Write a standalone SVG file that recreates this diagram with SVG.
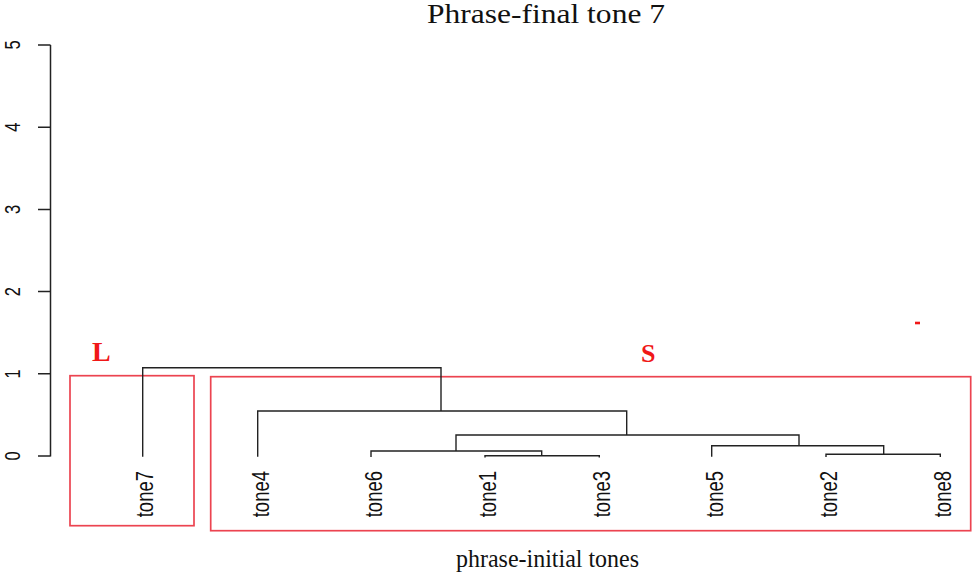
<svg xmlns="http://www.w3.org/2000/svg" width="975" height="573" viewBox="0 0 975 573">
<style>
.ax{stroke:#222;stroke-width:1.5;fill:none}
.dl{stroke:#222;stroke-width:1.4;fill:none}
.box{stroke:#ec4450;stroke-width:1.7;fill:none}
.lab{font-family:"Liberation Sans",Arial,sans-serif;font-size:18.5px;fill:#111}
.tick{font-family:"Liberation Sans",Arial,sans-serif;font-size:16.5px;fill:#111}
.ser{font-family:"Liberation Serif","Times New Roman",serif;fill:#111}
.grp{font-family:"Liberation Serif","Times New Roman",serif;font-weight:bold;fill:#f01818}
</style>
<rect width="975" height="573" fill="#fff"/>
<text class="ser" x="427" y="23" font-size="27" textLength="238" lengthAdjust="spacingAndGlyphs">Phrase-final tone 7</text>
<text class="ser" x="456" y="566.5" font-size="24.5" textLength="183" lengthAdjust="spacingAndGlyphs">phrase-initial tones</text>
<g id="axis">
<path class="ax" d="M50.5 45V456.5M38 45H50.5M38 127.2H50.5M38 209.4H50.5M38 291.6H50.5M38 373.8H50.5M38 456H50.5"/>
<g class="tick" text-anchor="middle">
<text transform="translate(20 45) scale(1.3 1) rotate(-90)">5</text>
<text transform="translate(20 127.2) scale(1.3 1) rotate(-90)">4</text>
<text transform="translate(20 209.4) scale(1.3 1) rotate(-90)">3</text>
<text transform="translate(20 291.6) scale(1.3 1) rotate(-90)">2</text>
<text transform="translate(20 373.8) scale(1.3 1) rotate(-90)">1</text>
<text transform="translate(20 456) scale(1.3 1) rotate(-90)">0</text>
</g>
</g>
<g id="cluster-L">
<rect class="box" x="70" y="375.7" width="124" height="150"/>
<text class="grp" x="92" y="361" font-size="28">L</text>
</g>
<g id="cluster-S">
<rect class="box" x="210.7" y="376.7" width="760" height="154"/>
<text class="grp" x="641" y="362" font-size="26">S</text>
</g>
<rect x="915" y="321.7" width="5" height="2.6" fill="#f01818"/>
<g id="connectors">
<path class="dl" d="M142.7 456.7V367.7H441V411"/>
<path class="dl" d="M257.7 456.7V411H626.7V435"/>
<path class="dl" d="M456 451V435H799V445.7"/>
<path class="dl" d="M371 457V451H541.7V455.7"/>
<path class="dl" d="M485 457.5V455.7H599.3V457.5"/>
<path class="dl" d="M711.7 456.7V445.7H883.7V454.3"/>
<path class="dl" d="M826 457V454.3H940.3V457"/>
</g>
<g class="lab" text-anchor="end">
<g id="tone7"><text transform="translate(153 471) scale(1.3 1) rotate(-90)">tone7</text></g>
<g id="tone4"><text transform="translate(268.5 471) scale(1.3 1) rotate(-90)">tone4</text></g>
<g id="tone6"><text transform="translate(381.8 471) scale(1.3 1) rotate(-90)">tone6</text></g>
<g id="tone1"><text transform="translate(495.8 471) scale(1.3 1) rotate(-90)">tone1</text></g>
<g id="tone3"><text transform="translate(610.1 471) scale(1.3 1) rotate(-90)">tone3</text></g>
<g id="tone5"><text transform="translate(722.5 471) scale(1.3 1) rotate(-90)">tone5</text></g>
<g id="tone2"><text transform="translate(836.8 471) scale(1.3 1) rotate(-90)">tone2</text></g>
<g id="tone8"><text transform="translate(951.1 471) scale(1.3 1) rotate(-90)">tone8</text></g>
</g>
</svg>
